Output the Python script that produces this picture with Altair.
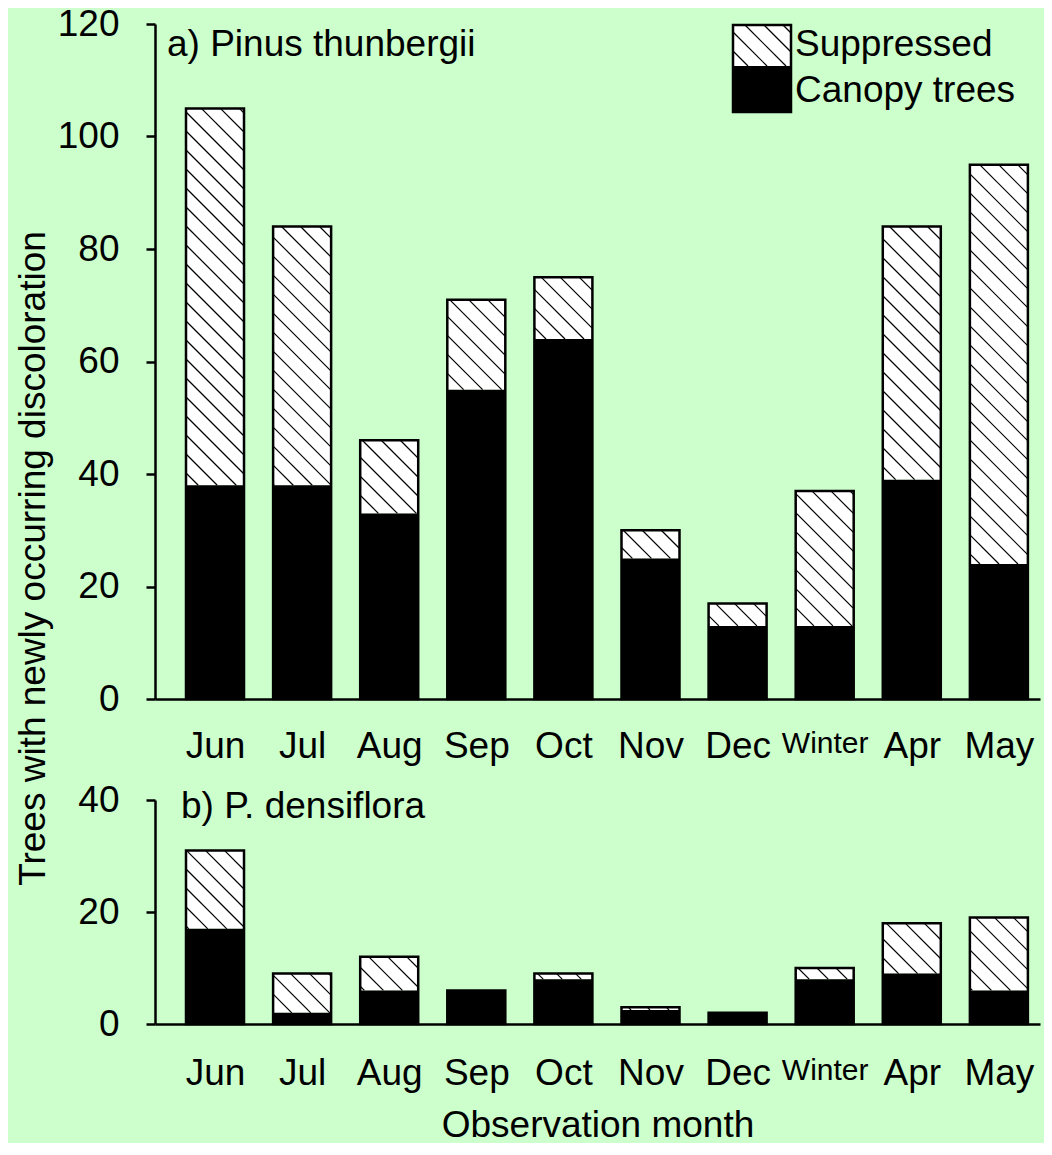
import json
import altair as alt
import pandas as pd

# ---------------- data ----------------
months = ["Jun", "Jul", "Aug", "Sep", "Oct", "Nov", "Dec", "Winter", "Apr", "May"]
# a) Pinus thunbergii
thunb_canopy = [38, 38, 33, 55, 64, 25, 13, 13, 39, 24]
thunb_total = [105, 84, 46, 71, 75, 30, 17, 37, 84, 95]
# b) P. densiflora
dens_canopy = [17, 2, 6, 6, 8, 2.5, 2, 8, 9, 6]
dens_total = [31, 9, 12, 6, 9, 3, 2, 10, 18, 19]

title_a = "a) Pinus thunbergii"
title_b = "b) P. densiflora"
legend_labels = ["Suppressed", "Canopy trees"]
y_title = "Trees with newly occurring discoloration"
x_title = "Observation month"

# ---------------- style / layout ----------------
FONT = "Liberation Sans"
FS = 37
BG = "#ccffcc"
W = 885
H_TOP = 675
H_BOT = 224
XMIN, XMAX = -0.689, 9.472
HALF = 0.333
HATCH_PX = 19.0
LW = 2.5

PPX = W / (XMAX - XMIN)


def hatch_segments(x0, x1, y0, y1, ymax, ppy):
    """diagonal '\\' hatch lines clipped to a rectangle given in data units"""
    w = (x1 - x0) * PPX
    h = (y1 - y0) * ppy
    px0 = (x0 - XMIN) * PPX
    py0 = (ymax - y1) * ppy
    k = -w + ((-(py0 - px0) + w) % HATCH_PX)
    segs = []
    while k < h:
        us = max(0.0, -k)
        ue = min(w, h - k)
        if ue - us > 0.8:
            segs.append(dict(x=x0 + us / PPX, y=y1 - (us + k) / ppy,
                             x2=x0 + ue / PPX, y2=y1 - (ue + k) / ppy))
        k += HATCH_PX
    return segs


label_expr = json.dumps(months) + "[datum.value]"
long_idx = months.index("Winter")


def panel(canopy, total, ymax, height, yvalues, title, legend=False, bottom=False):
    ppy = height / ymax
    df = pd.DataFrame({"month": months, "idx": list(range(len(months))),
                       "canopy": canopy, "total": total})
    df["xa"] = df["idx"] - HALF
    df["xb"] = df["idx"] + HALF
    df["zero"] = 0.0

    xscale = alt.Scale(domain=[XMIN, XMAX], nice=False, zero=False)
    yscale = alt.Scale(domain=[0, ymax], nice=False, zero=True)

    xaxis = alt.Axis(values=list(range(len(months))), labelExpr=label_expr,
                     ticks=False, grid=False, domainColor="black", domainWidth=LW,
                     labelFont=FONT,
                     labelFontSize={"condition": {"test": f"datum.value == {long_idx}", "value": 30},
                                    "value": FS},
                     labelColor="black",
                     labelPadding=31 if bottom else 29, labelAngle=0,
                     labelFlush=False, labelOverlap=False,
                     title=x_title if bottom else None,
                     titleFont=FONT, titleFontSize=FS, titleFontWeight="normal",
                     titleColor="black", titlePadding=16)
    yaxis_kw = dict(values=yvalues, format="d", grid=False, domainColor="black",
                    domainWidth=LW, tickColor="black", tickWidth=LW, tickSize=9,
                    labelFont=FONT, labelFontSize=FS, labelColor="black",
                    labelPadding=27, labelFlush=False, labelOverlap=False)
    if not bottom:
        yaxis = alt.Axis(title=y_title, titleFont=FONT, titleFontSize=FS,
                         titleFontWeight="normal", titleColor="black",
                         titleAngle=-90, titleAlign="center", titleBaseline="middle",
                         titleX=-122, titleY=534, **yaxis_kw)
    else:
        yaxis = alt.Axis(title=None, **yaxis_kw)

    def X(f):
        return alt.X(f, scale=xscale, axis=xaxis)

    def Y(f):
        return alt.Y(f, scale=yscale, axis=yaxis)

    base = alt.Chart(df)
    sup = df[df["total"] > df["canopy"]]

    white = alt.Chart(sup).mark_rect(fill="white", strokeWidth=0).encode(
        x=X("xa:Q"), x2="xb:Q", y=Y("canopy:Q"), y2="total:Q")

    segs = []
    for _, r in sup.iterrows():
        segs += hatch_segments(r["xa"], r["xb"], r["canopy"], r["total"], ymax, ppy)
    hatch = alt.Chart(pd.DataFrame(segs)).mark_rule(color="black", strokeWidth=1.2).encode(
        x=X("x:Q"), x2="x2:Q", y=Y("y:Q"), y2="y2:Q")

    black = base.mark_rect(fill="black", strokeWidth=0).encode(
        x=X("xa:Q"), x2="xb:Q", y=Y("zero:Q"), y2="canopy:Q")

    outline = base.mark_rect(filled=False, stroke="black", strokeWidth=LW).encode(
        x=X("xa:Q"), x2="xb:Q", y=Y("zero:Q"), y2="total:Q")

    ttl = alt.Chart(pd.DataFrame({"t": [title]})).mark_text(
        align="left", baseline="middle", font=FONT, fontSize=FS, color="black"
    ).encode(text="t:N", x=alt.value(26 if bottom else 12), y=alt.value(7 if bottom else 21))

    layers = [white, hatch, black, outline, ttl]

    if legend:
        # legend box in pixel units of the plot area, mapped through the scales
        bx0, bx1, by_top, by_mid, by_bot = 578, 636, 1, 42, 88
        lx0 = XMIN + bx0 / PPX
        lx1 = XMIN + bx1 / PPX
        ly_top = ymax - by_top / ppy
        ly_mid = ymax - by_mid / ppy
        ly_bot = ymax - by_bot / ppy
        ldf = pd.DataFrame({"xa": [lx0, lx0], "xb": [lx1, lx1],
                            "ya": [ly_mid, ly_bot], "yb": [ly_top, ly_mid],
                            "kind": ["s", "c"]})
        lwhite = alt.Chart(ldf[ldf.kind == "s"]).mark_rect(fill="white", strokeWidth=0).encode(
            x=X("xa:Q"), x2="xb:Q", y=Y("ya:Q"), y2="yb:Q")
        lsegs = hatch_segments(lx0, lx1, ly_mid, ly_top, ymax, ppy)
        lhatch = alt.Chart(pd.DataFrame(lsegs)).mark_rule(color="black", strokeWidth=1.2).encode(
            x=X("x:Q"), x2="x2:Q", y=Y("y:Q"), y2="y2:Q")
        lblack = alt.Chart(ldf[ldf.kind == "c"]).mark_rect(fill="black", strokeWidth=0).encode(
            x=X("xa:Q"), x2="xb:Q", y=Y("ya:Q"), y2="yb:Q")
        lout = alt.Chart(pd.DataFrame({"xa": [lx0], "xb": [lx1], "ya": [ly_bot], "yb": [ly_top]})).mark_rect(
            filled=False, stroke="black", strokeWidth=LW).encode(
            x=X("xa:Q"), x2="xb:Q", y=Y("ya:Q"), y2="yb:Q")
        ltxt1 = alt.Chart(pd.DataFrame({"t": [legend_labels[0]]})).mark_text(
            align="left", baseline="middle", font=FONT, fontSize=FS, color="black"
        ).encode(text="t:N", x=alt.value(bx1 + 4), y=alt.value(21))
        ltxt2 = alt.Chart(pd.DataFrame({"t": [legend_labels[1]]})).mark_text(
            align="left", baseline="middle", font=FONT, fontSize=FS, color="black"
        ).encode(text="t:N", x=alt.value(bx1 + 4), y=alt.value(67))
        layers += [lwhite, lhatch, lblack, lout, ltxt1, ltxt2]

    return alt.layer(*layers).properties(width=W, height=height)


top = panel(thunb_canopy, thunb_total, 120, H_TOP, [0, 20, 40, 60, 80, 100, 120], title_a, legend=True)
bot = panel(dens_canopy, dens_total, 40, H_BOT, [0, 20, 40], title_b, bottom=True)

chart = alt.vconcat(top, bot, spacing=101, bounds="flush").configure_view(
    stroke=None, fill=BG
).properties(background=BG, padding={"left": 6, "top": -3, "right": 4, "bottom": 0})

chart.save("out.html", embed_options={"renderer": "svg", "actions": False})
